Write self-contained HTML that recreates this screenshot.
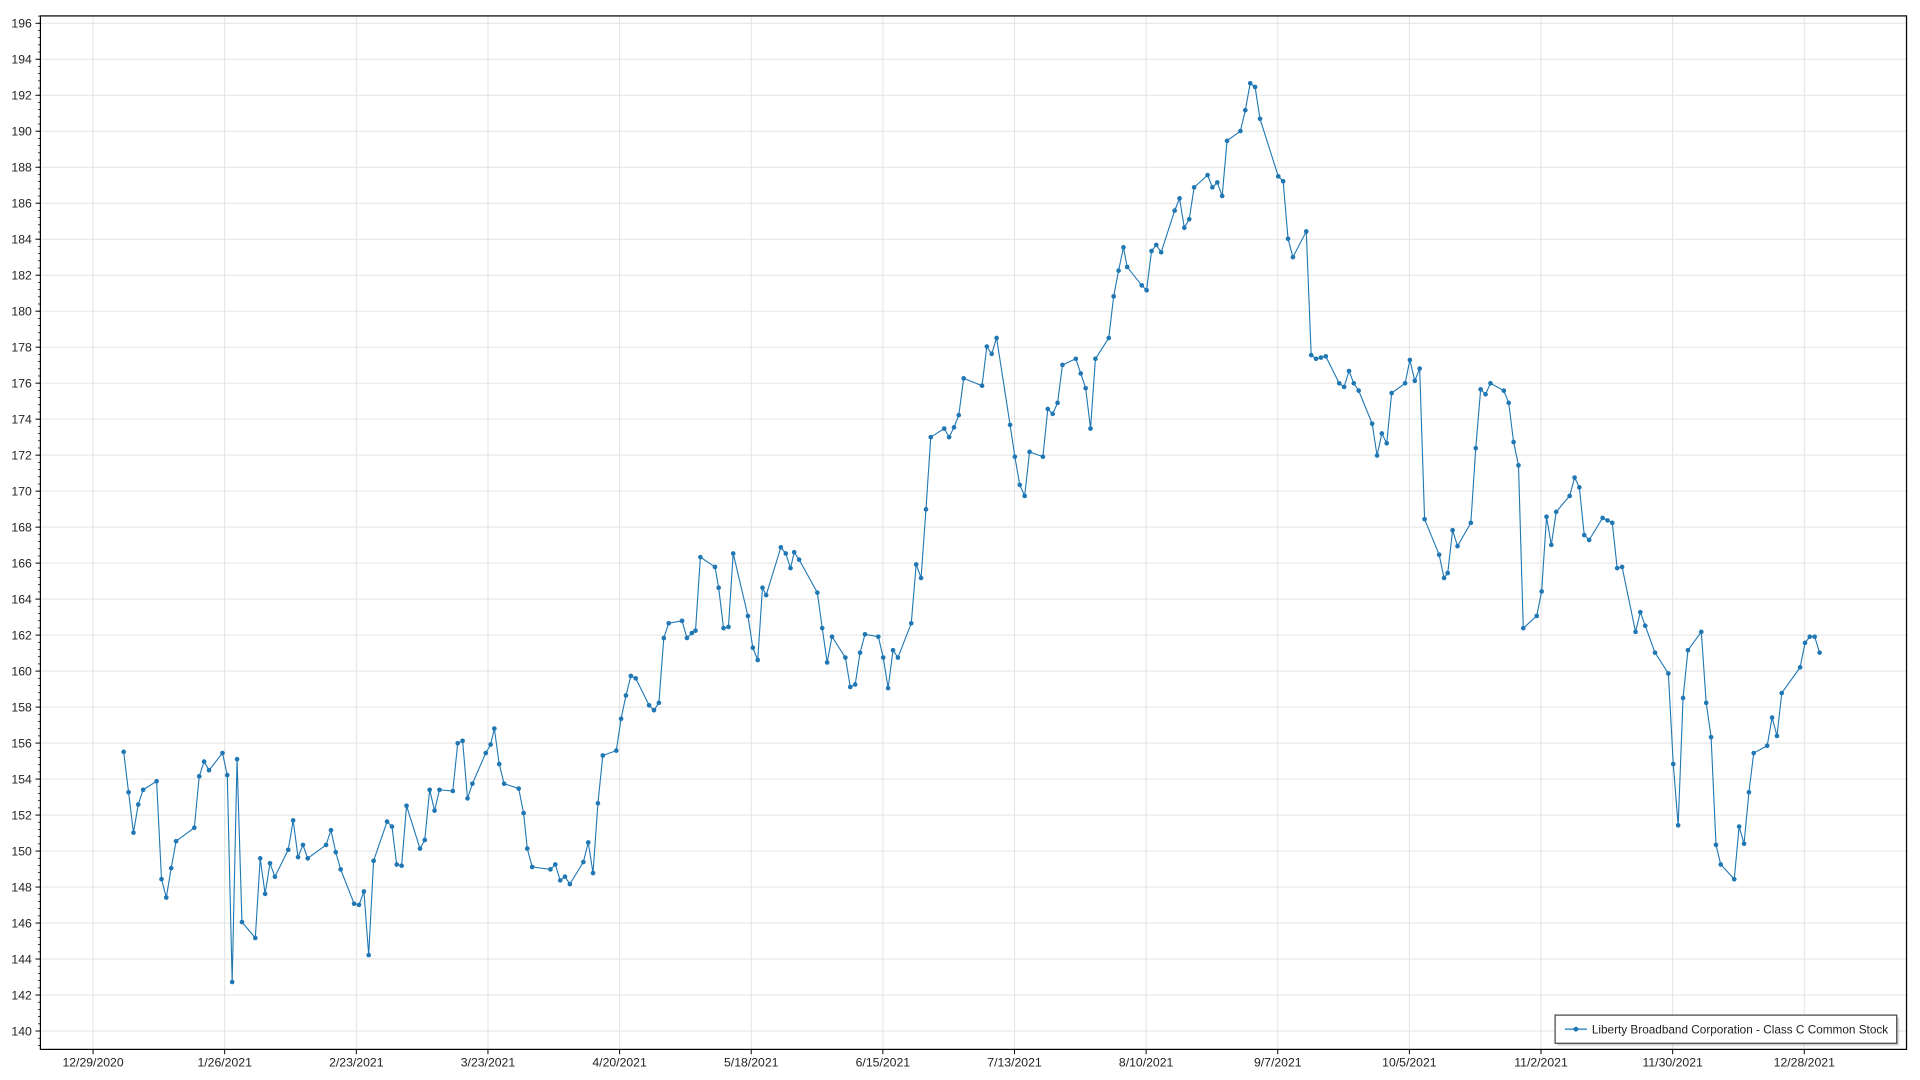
<!DOCTYPE html>
<html><head><meta charset="utf-8"><style>
html,body{margin:0;padding:0;background:#fff;}
svg{display:block;}
text{font-family:"Liberation Sans",sans-serif;fill:#222;}
</style></head><body>
<svg id="c" width="1920" height="1080" viewBox="0 0 1568 882" xmlns="http://www.w3.org/2000/svg">
<rect x="0" y="0" width="1568" height="882" fill="#fff"/>
<g id="grid"></g>
<g id="series"></g>
<rect x="33" y="13" width="1524" height="844" fill="none" stroke="#000" stroke-width="1"/>
<g id="ticks"></g>
<rect x="1272" y="831" width="279" height="23" fill="#bbb" opacity="0.6"/>
<rect x="1270" y="829" width="279" height="23" fill="#fff" stroke="#444" stroke-width="1"/>
<line x1="1278" y1="840.5" x2="1296" y2="840.5" stroke="#1f77b4" stroke-width="1.5" opacity="0.7"/>
<circle cx="1287" cy="840.5" r="2" fill="#1f77b4"/>
<text x="1300" y="844" font-size="10" textLength="242" lengthAdjust="spacingAndGlyphs">Liberty Broadband Corporation - Class C Common Stock</text>
</svg>
<script>
var ns="http://www.w3.org/2000/svg";
function el(p,t,a){var e=document.createElementNS(ns,t);for(var k in a)e.setAttribute(k,a[k]);p.appendChild(e);return e;}
var g=document.getElementById('grid'),tk=document.getElementById('ticks'),s=document.getElementById('series');
function Y(v){return 19+(196-v)*(823/56);}
for(var v=140;v<=196;v+=2){var y=Y(v);
 el(g,'line',{x1:33,x2:1557,y1:y,y2:y,stroke:'#e2e2e2','stroke-width':0.8});
 el(tk,'line',{x1:29,x2:33,y1:y,y2:y,stroke:'#000','stroke-width':0.8});
 var t=el(tk,'text',{x:26,y:y+3.5,'font-size':'10','text-anchor':'end'});t.textContent=v;}
for(var v=139.2;v<=196.8;v+=0.4){var y=Y(v);if(y<13||y>857)continue;
 el(tk,'line',{x1:31,x2:33,y1:y,y2:y,stroke:'#000','stroke-width':0.6});}
var xl=["12/29/2020","1/26/2021","2/23/2021","3/23/2021","4/20/2021","5/18/2021","6/15/2021","7/13/2021","8/10/2021","9/7/2021","10/5/2021","11/2/2021","11/30/2021","12/28/2021"];
for(var i=0;i<xl.length;i++){var x=76+i*107.5;
 el(g,'line',{x1:x,x2:x,y1:13,y2:857,stroke:'#e2e2e2','stroke-width':0.8});
 el(tk,'line',{x1:x,x2:x,y1:857,y2:861,stroke:'#000','stroke-width':0.8});
 var t=el(tk,'text',{x:x,y:871,'font-size':'10','text-anchor':'middle'});t.textContent=xl[i];}
var d=[101,614,105,647,109,680,113,657,117,645,128,638,132,718,136,733,140,709,144,687,159,676,163,634,167,622,171,629,182,615,186,633,190,802,194,620,198,753,209,766,213,701,217,730,221,705,225,716,236,694,240,670,244,700,248,690,252,701,267,690,271,678,275,696,279,710,290,738,294,739,298,728,302,780,306,703,317,671,321,675,325,706,329,707,333,658,344,693,348,686,352,645,356,662,360,645,371,646,375,607,379,605,383,652,387,640,398,615,402,608,405,595,409,624,413,640,425,644,429,664,432,693,436,708,451,710,455,706,459,719,463,716,467,722,478,704,482,688,486,713,490,656,494,617,505,613,509,587,513,568,517,552,521,554,532,576,536,580,540,574,544,521,548,509,559,507,563,521,567,517,570,515,574,455,586,463,589,480,593,513,597,512,601,452,613,503,617,529,621,539,625,480,628,486,640,447,644,452,648,464,651,451,655,457,670,484,674,513,678,541,682,520,693,537,697,561,701,559,705,533,709,518,720,520,724,537,728,562,732,531,736,537,747,509,751,461,755,472,759,416,763,357,774,350,778,357,782,349,786,339,790,309,805,315,809,283,813,289,817,276,828,347,832,373,836,396,840,405,844,369,855,373,859,334,863,338,867,329,871,298,882,293,886,305,890,317,894,350,898,293,909,276,913,242,917,221,921,202,924,218,936,233,940,237,944,205,948,200,952,206,963,172,967,162,971,186,975,179,979,153,990,143,994,153,998,149,1002,160,1006,115,1017,107,1021,90,1025,68,1029,71,1033,97,1048,144,1052,148,1056,195,1060,210,1071,189,1075,290,1079,293,1083,292,1087,291,1098,313,1102,316,1106,303,1110,313,1114,319,1125,346,1129,372,1133,354,1137,362,1141,321,1152,313,1156,294,1160,311,1164,301,1168,424,1180,453,1184,472,1187,468,1191,433,1195,446,1206,427,1210,366,1214,318,1218,322,1222,313,1233,319,1237,329,1241,361,1245,380,1249,513,1260,503,1264,483,1268,422,1272,445,1276,418,1287,405,1291,390,1295,398,1299,437,1303,441,1314,423,1318,425,1322,427,1326,464,1330,463,1341,516,1345,500,1349,511,1357,533,1368,550,1372,624,1376,674,1380,570,1384,531,1395,516,1399,574,1403,602,1407,690,1411,706,1422,718,1426,675,1430,689,1434,647,1438,615,1449,609,1453,586,1457,601,1461,566,1476,545,1480,525,1484,520,1488,520,1492,533];
var n=d.length/2,x0=d[0],x1=d[d.length-2],sc=(1486-101)/(x1-x0),pts=[];
for(var i=0;i<n;i++){var x=101+(d[2*i]-x0)*sc,y=d[2*i+1];pts.push(x.toFixed(1)+','+y);}
el(s,'polyline',{points:pts.join(' '),fill:'none',stroke:'#1f77b4','stroke-width':0.9});
for(var i=0;i<n;i++){var p=pts[i].split(',');el(s,'circle',{cx:p[0],cy:p[1],r:1.9,fill:'#1f77b4'});}
</script>
</body></html>
